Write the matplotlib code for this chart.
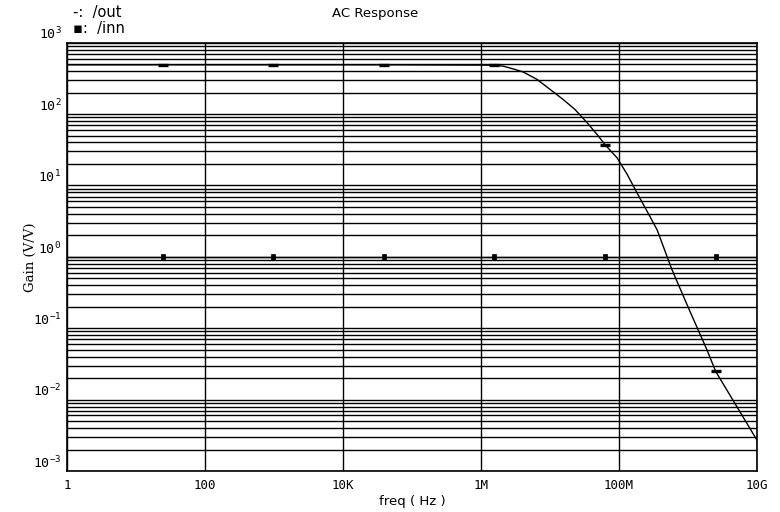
import matplotlib
matplotlib.use("Agg")
import matplotlib.pyplot as plt
from matplotlib import ticker
import numpy as np

# /out gain curve, read as (frequency in Hz, gain in V/V)
out_freq = [1.0, 24.5, 977.0, 3.89e4, 1.32e6, 1.55e6, 2.09e6, 2.91e6, 4.06e6,
            6.49e6, 1.0e7, 1.54e7, 2.30e7, 3.44e7, 4.80e7, 6.31e7, 9.35e7,
            1.32e8, 1.82e8, 2.57e8, 3.56e8, 5.86e8, 1.06e9, 1.88e9, 2.51e9,
            1.0e10]
out_gain = [490.0, 490.0, 490.0, 490.0, 485.0, 480.0, 470.0, 430.0, 390.0,
            306.0, 222.0, 161.0, 116.0, 76.0, 52.0, 37.0, 24.5,
            14.2, 7.9, 4.3, 2.4, 0.66, 0.175, 0.050, 0.025, 0.0027]
out_marks = [1, 2, 3, 5, 15, 24]

# /inn gain, flat across the sweep
inn_freq = [1.0, 24.5, 977.0, 3.89e4, 1.55e6, 6.31e7, 2.51e9, 1.0e10]
inn_gain = [1.0, 1.0, 1.0, 1.0, 1.0, 1.0, 1.0, 1.0]
inn_marks = [1, 2, 3, 4, 5, 6]

x_ticks = [1, 1e2, 1e4, 1e6, 1e8, 1e10]
x_labels = ["1", "100", "10K", "1M", "100M", "10G"]
y_exps = [-3, -2, -1, 0, 1, 2, 3]

plt.rcParams["mathtext.fontset"] = "custom"
plt.rcParams["mathtext.rm"] = "DejaVu Sans Mono"
plt.rcParams["mathtext.it"] = "DejaVu Sans Mono"

fig = plt.figure(figsize=(7.8, 5.12), dpi=100)
ax = fig.add_axes([67 / 780, 41 / 512, 690 / 780, 428.3 / 512])

ax.set_xscale("log")
ax.set_yscale("log")
ax.set_xlim(1, 1e10)
ax.set_ylim(1e-3, 1e3)

# grid: every decade + minor step vertically, every second decade horizontally
ax.xaxis.set_major_locator(ticker.FixedLocator(x_ticks))
ax.xaxis.set_major_formatter(ticker.FixedFormatter(x_labels))
ax.xaxis.set_minor_locator(ticker.NullLocator())
ax.yaxis.set_major_locator(ticker.FixedLocator([10.0 ** e for e in y_exps]))
ax.yaxis.set_major_formatter(ticker.FixedFormatter([f"$10^{{{e}}}$" for e in y_exps]))
ax.yaxis.set_minor_locator(ticker.LogLocator(base=10, subs=np.arange(2, 10), numticks=20))
ax.yaxis.set_minor_formatter(ticker.NullFormatter())
ax.grid(True, axis="x", which="major", color="black", lw=1.0)
ax.grid(True, axis="y", which="both", color="black", lw=1.0)
ax.tick_params(which="both", length=0)
ax.tick_params(axis="x", pad=6, labelsize=9)
ax.tick_params(axis="y", pad=4, labelsize=9.5)
for lab in ax.get_xticklabels():
    lab.set_family("DejaVu Sans Mono")
for lab in ax.get_yticklabels():
    lab.set_verticalalignment("bottom")
for s in ax.spines.values():
    s.set_color("black")
    s.set_linewidth(1.2)

# narrow upright bar used as the /inn point marker
bar_marker = [(-0.5, -1.0), (0.5, -1.0), (0.5, 1.0), (-0.5, 1.0), (-0.5, -1.0)]

ax.plot(out_freq, out_gain, color="black", lw=1.0, marker="_", ms=7.5, mew=2.4,
        markevery=out_marks)
ax.plot(inn_freq, inn_gain, color="black", lw=1.0, marker=bar_marker, ms=5,
        mew=0.5, mfc="black", mec="black", markevery=inn_marks)

ax.set_xlabel("freq ( Hz )", fontsize=9.5, labelpad=2)
ax.set_ylabel("Gain (V/V)", fontsize=9.5, family="DejaVu Serif", labelpad=-3)

fig.text(375 / 780, 1 - 13 / 512, "AC Response", ha="center", va="center", fontsize=9.5)
fig.text(73 / 780, 1 - 13 / 512, "-:  /out", ha="left", va="center", fontsize=10.5)
fig.text(73 / 780, 1 - 28 / 512, "\u25aa:  /inn", ha="left", va="center", fontsize=10.5)

fig.savefig("out.png", dpi=100)
